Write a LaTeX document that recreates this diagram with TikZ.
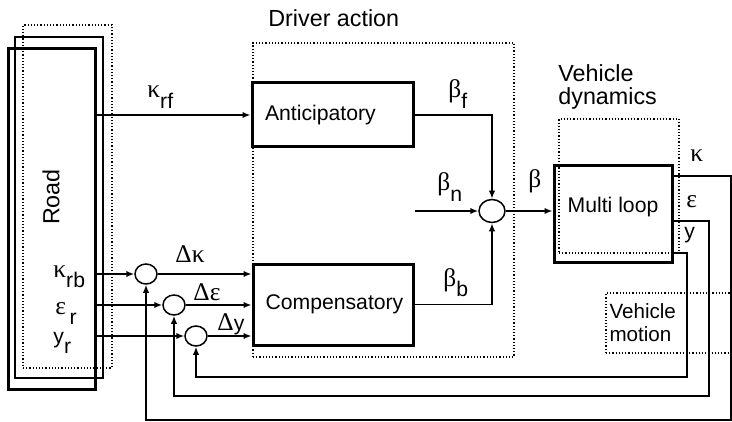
\documentclass[tikz,border=0pt]{standalone}
\usepackage{fontspec}
\setmainfont{Liberation Sans}
\newfontfamily\grk[Scale=1.2]{Liberation Serif}
\usepackage{tikz}
\usetikzlibrary{
    shapes.geometric,
    arrows.meta,
    positioning,
    calc
}
\newcommand{\lowsub}[1]{\raisebox{-0.5em}{#1}}
\newcommand{\boxfont}{\fontsize{10.6}{12}\selectfont}
\newcommand{\titlefont}{\fontsize{11.65}{11.5}\selectfont}
\tikzset{
    % Base style for all nodes
    diag base/.style={
        font=\boxfont,
        inner sep=0pt,
    },
    % Solid blocks - thick black rectangle
    block/.style={
        diag base,
        rectangle,
        draw=black,
        line width=1.5pt,
    },
    % Dotted grouping boxes
    groupbox/.style={
        diag base,
        rectangle,
        draw=black,
        densely dotted,
        line width=0.6pt,
    },
    % Titles of the groups
    group title/.style={
        font=\titlefont,
        inner sep=0pt,
        align=left,
    },
    % Summing junctions
    junction/.style={
        ellipse,
        draw=black,
        line width=0.75pt,
        minimum width=11pt,
        minimum height=10pt,
        inner sep=0pt,
    },
    % Signal arrow
    sigarrow/.style={
        -{Latex[length=4pt, width=3.2pt]},
        line width=0.75pt,
    },
    % Signal names
    sig label/.style={
        diag base,
        anchor=base west,
    },
}

\begin{document}
\begin{tikzpicture}[x=0.5pt, y=-0.5pt]
    \useasboundingbox (0,0) rectangle (732,422);

    \node (roadback) [groupbox, minimum width=44.5pt, minimum height=171.5pt] at (67.5,196.5) {};
    \node (roadmid) [block, line width=0.9pt, minimum width=44pt, minimum height=170.5pt] at (59,207.5) {};
    \node (road) [block, minimum width=43.5pt, minimum height=170pt] at (51.5,219) {};
    \node (roadtext) [group title, rotate=90] at (51,197) {Road};

    \node (driver) [groupbox, minimum width=130.5pt, minimum height=157pt] at (383.5,200) {};
    \node (drivertext) [group title, anchor=base west] at (268,27) {Driver action};
    \node (anticip) [block, minimum width=80.5pt, minimum height=32pt, text width=67.5pt, align=left] at (332.5,115) {Anticipatory};
    \node (compens) [block, minimum width=80pt, minimum height=40.5pt, text width=67.5pt, align=left] at (333,304.5) {Compensatory};

    \node (sum) [junction, minimum width=13pt, minimum height=11.5pt] at (492,211) {};
    \node (s1) [junction] at (146,274) {};
    \node (s2) [junction] at (174,305) {};
    \node (s3) [junction] at (196,336) {};

    \node (vdyn) [groupbox, minimum width=60pt, minimum height=67pt] at (619,186) {};
    \node (vdyntext) [group title, anchor=north west] at (558,64) {Vehicle\\dynamics};
    \node (multi) [block, minimum width=59pt, minimum height=48pt, text height=7.6pt, text depth=8.6pt] at (613,214) {Multi loop};
    \node (vmotion) [groupbox, font=\fontsize{10.3}{11.5}\selectfont, minimum width=69.5pt, minimum height=30pt, text width=66pt, align=left] at (675.5,323) {Vehicle\\motion};

    \coordinate (bnin) at (415,211);
    \coordinate (kturn) at (731,420);
    \coordinate (eturn) at (709,396);
    \coordinate (yturn) at (687,377);

    \node (lkrf) [sig label] at (147,98) {{\grk κ}\lowsub{rf}};
    \node (lkrb) [sig label] at (53,277) {{\grk κ}\lowsub{rb}};
    \node (ler) [sig label] at (55,314) {{\grk ε}\,\lowsub{r}};
    \node (lyr) [sig label] at (53,343) {y\lowsub{r}};
    \node (ldk) [sig label] at (175,262) {\grk Δκ};
    \node (lde) [sig label] at (193,300) {\grk Δε};
    \node (ldy) [sig label] at (217,330) {{\grk Δ}y};
    \node (lbf) [sig label] at (448,98) {{\grk β}\lowsub{f}};
    \node (lbn) [sig label] at (437,191) {{\grk β}\lowsub{n}};
    \node (lbb) [sig label] at (443,286) {{\grk β}\lowsub{b}};
    \node (lb) [sig label] at (528,188) {\grk β};
    \node (lk) [sig label] at (690,162) {\grk κ};
    \node (le) [sig label] at (686,207) {\grk ε};
    \node (ly) [sig label] at (684,238) {y};

    \draw [sigarrow] (road.east |- anticip.west) -- (anticip.west);
    \draw [sigarrow] (road.east |- s1) -- (s1.west);
    \draw [sigarrow] (road.east |- s2) -- (s2.west);
    \draw [sigarrow] (road.east |- s3) -- (s3.west);
    \draw [sigarrow] (s1.east) -- (compens.west |- s1);
    \draw [sigarrow] (s2.east) -- (compens.west |- s2);
    \draw [sigarrow] (s3.east) -- (compens.west |- s3);
    \draw [sigarrow] (anticip.east) -| (sum.north);
    \draw [sigarrow] (compens.east) -| (sum.south);
    \draw [sigarrow] (bnin) -- (sum.west);
    \draw [sigarrow] (sum.east) -- (multi.west |- sum);
    \draw [sigarrow] (multi.east |- 0,176) -| (kturn) -| (s1.south);
    \draw [sigarrow] (multi.east |- 0,221) -| (eturn) -| (s2.south);
    \draw [sigarrow] (multi.east |- 0,253) -| (yturn) -| (s3.south);
\end{tikzpicture}
\end{document}
